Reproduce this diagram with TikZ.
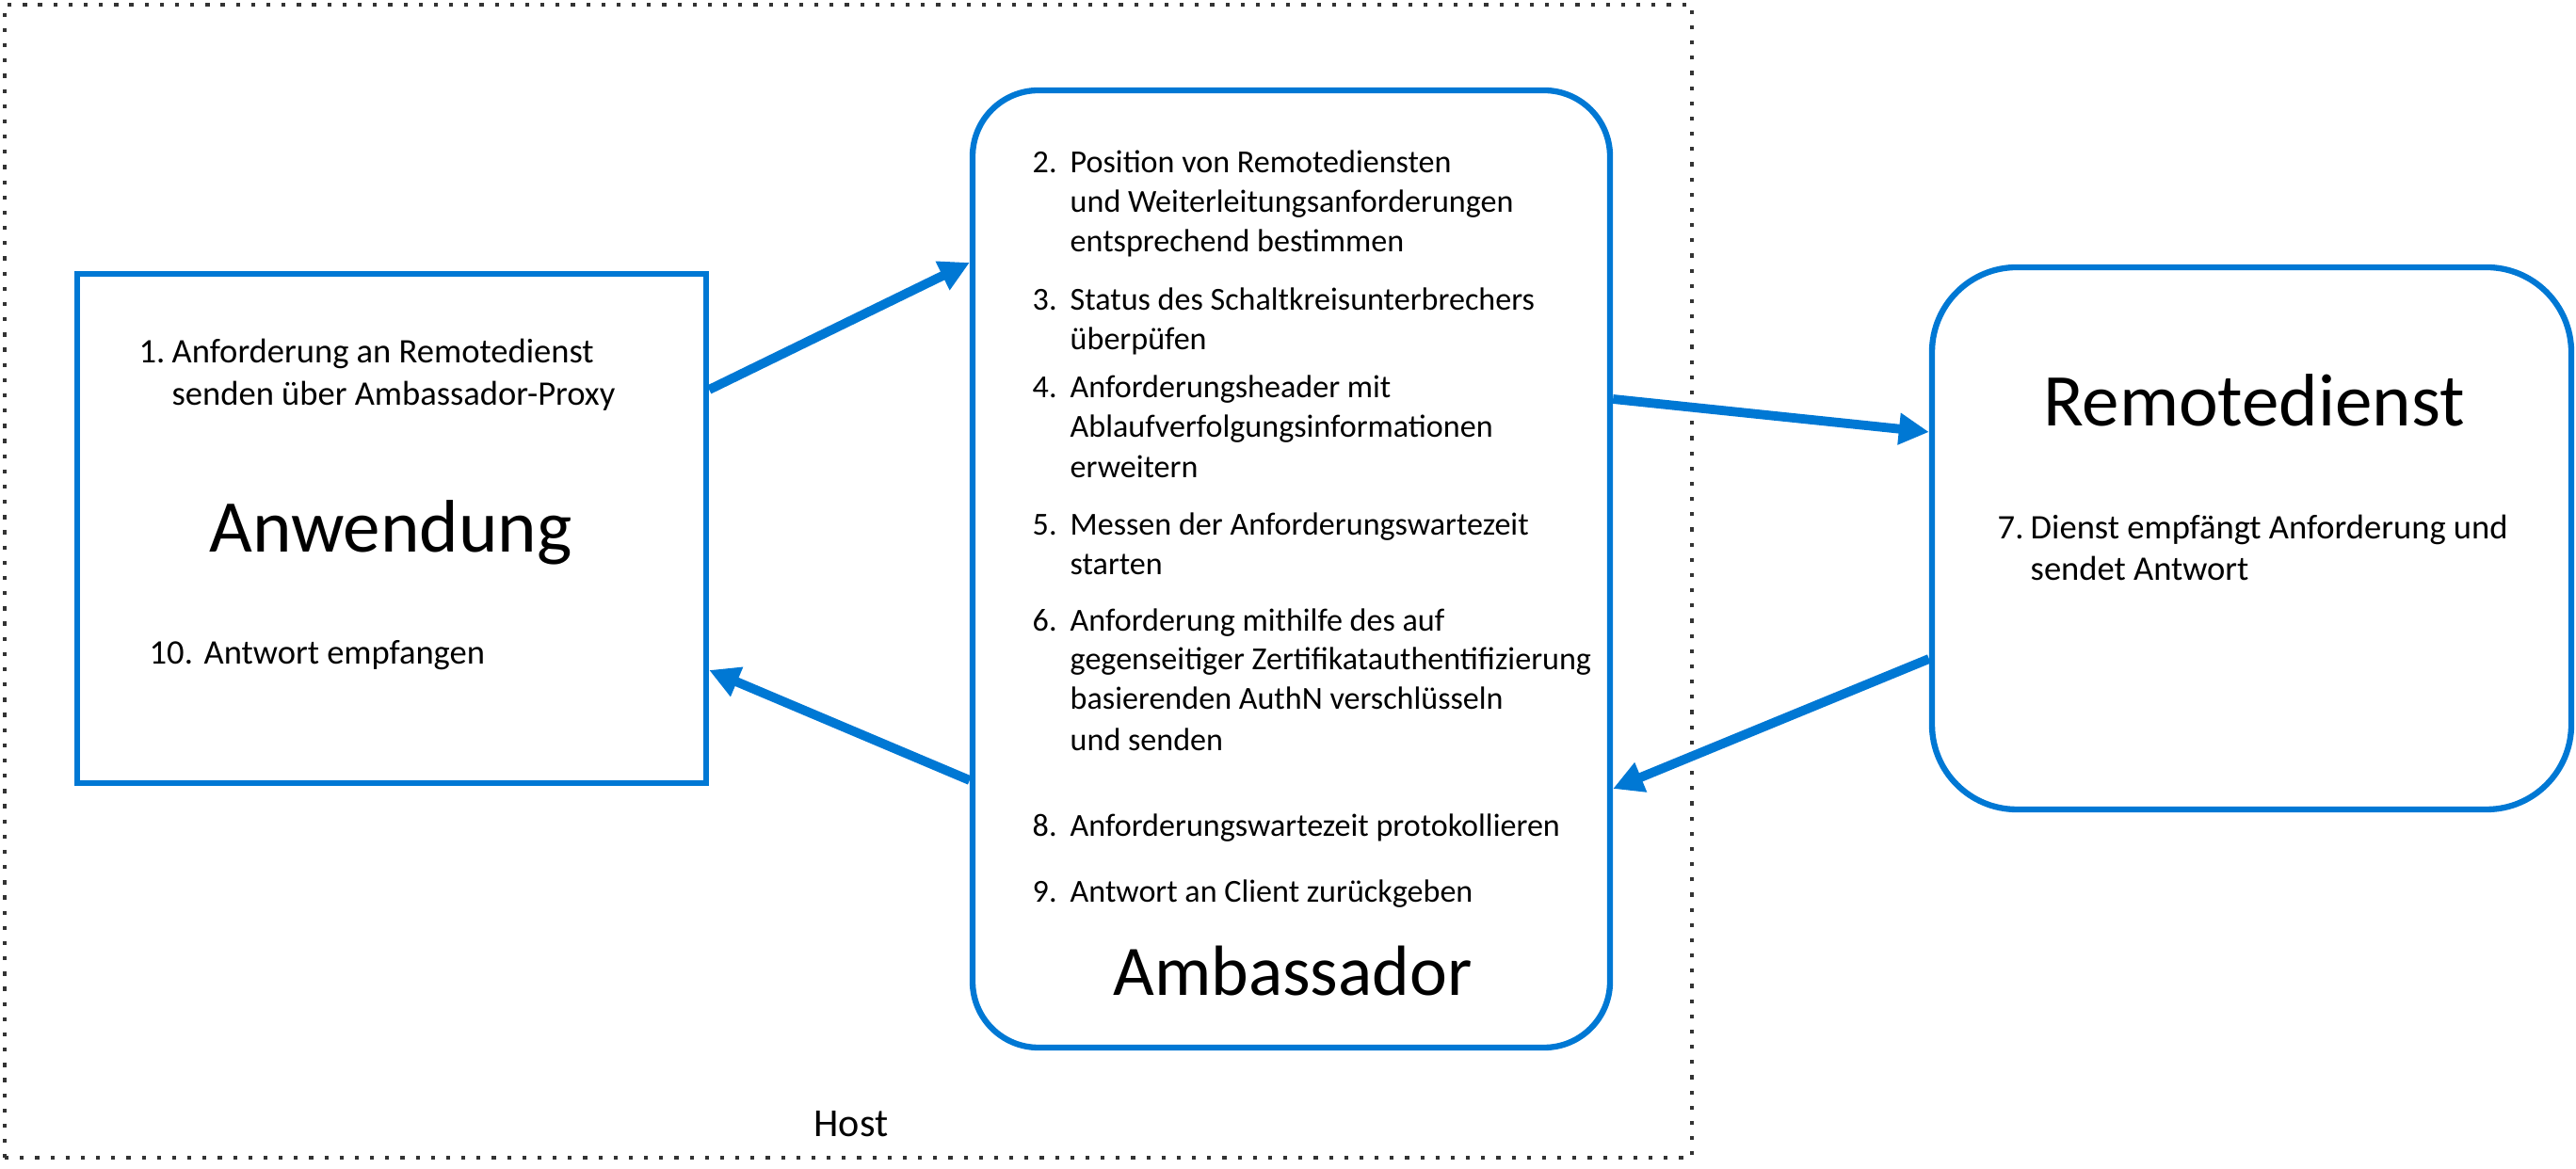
\documentclass[tikz,border=0pt]{standalone}
\usepackage{fontspec}
\setmainfont{Carlito}
\usetikzlibrary{arrows.meta}
\definecolor{msblue}{HTML}{0078D4}

\begin{document}
\begin{tikzpicture}[
    box/.style={draw=msblue, line width=1.8pt, inner sep=0pt},
    flow/.style={draw=msblue, line width=2.8pt, -{Triangle[length=3.2mm,width=3.2mm]}},
    title/.style={font=\fontsize{22.5}{27}\selectfont, inner sep=0pt, anchor=base},
    steptext/.style={font=\fontsize{9.7}{11.9}\selectfont, inner sep=0pt, anchor=base west},
    sidetext/.style={font=\fontsize{10.4}{12.5}\selectfont, inner sep=0pt, anchor=base west},
  ]
  \useasboundingbox (0,0) rectangle (27.36,12.42);

  % Host border
  \node[draw=black!80, line width=1.2pt, dash pattern=on 1.2pt off 3.4pt,
    minimum width=17.92cm, minimum height=12.25cm, inner sep=0pt] (host) at (9.01,6.245) {};
  \node[font=\fontsize{12}{14}\selectfont, inner sep=0pt, anchor=base] (hostlabel) at (9.04,0.34) {Host};

  % Anwendung box
  \node[box, minimum width=6.68cm, minimum height=5.41cm] (anw) at (4.16,6.805) {};
  \node[title] (anwtitle) at (4.15,6.55) {Anwendung};
  \node[sidetext] (req1) at (1.82,8.56) {\llap{\makebox[0.35cm][l]{1.}}Anforderung an Remotedienst};
  \node[sidetext] (req1b) at (1.82,8.11) {senden über Ambassador-Proxy};
  \node[sidetext] (resp10) at (2.16,5.36) {\llap{\makebox[0.58cm][l]{10.}}Antwort empfangen};

  % Ambassador box
  \node[box, rounded corners=0.7cm, minimum width=6.77cm, minimum height=10.17cm] (amb) at (13.715,6.375) {};
  \node[title, font=\fontsize{21.5}{26}\selectfont] (ambtitle) at (13.73,1.84) {Ambassador};
  \foreach \y/\n/\t [count=\k] in {
      10.58/2./Position von Remotediensten,
      10.16//und Weiterleitungsanforderungen,
      9.74//entsprechend bestimmen,
      9.12/3./Status des Schaltkreisunterbrechers,
      8.70//überpüfen,
      8.19/4./Anforderungsheader mit,
      7.77//Ablaufverfolgungsinformationen,
      7.34//erweitern,
      6.73/5./Messen der Anforderungswartezeit,
      6.31//starten,
      5.71/6./Anforderung mithilfe des auf,
      5.30//gegenseitiger Zertifikatauthentifizierung,
      4.88//basierenden AuthN verschlüsseln,
      4.44//und senden,
      3.53/8./Anforderungswartezeit protokollieren,
      2.83/9./Antwort an Client zurückgeben}
    \node[steptext] (amb\k) at (11.36,\y) {\llap{\makebox[0.40cm][l]{\n}}\t};

  % Remotedienst box
  \node[box, rounded corners=0.9cm, minimum width=6.79cm, minimum height=5.76cm] (srv) at (23.915,6.70) {};
  \node[title] (srvtitle) at (23.94,7.89) {Remotedienst};
  \node[sidetext] (srv7) at (21.56,6.69) {\llap{\makebox[0.35cm][l]{7.}}Dienst empfängt Anforderung und};
  \node[sidetext] (srv7b) at (21.56,6.25) {sendet Antwort};

  % connector ends
  \coordinate (anwout) at ([yshift=1.475cm]anw.east);
  \coordinate (ambin) at ([yshift=3.255cm]amb.west);
  \coordinate (ambout) at ([yshift=1.805cm]amb.east);
  \coordinate (srvin) at ([yshift=1.13cm]srv.west);
  \coordinate (srvout) at ([yshift=-1.28cm]srv.west);
  \coordinate (ambback) at ([yshift=-2.335cm]amb.east);
  \coordinate (ambret) at ([yshift=-2.245cm]amb.west);
  \coordinate (anwin) at ([yshift=-1.505cm]anw.east);

  % flows
  \draw[flow] (anwout) -- (ambin);
  \draw[flow] (ambout) -- (srvin);
  \draw[flow] (srvout) -- (ambback);
  \draw[flow] (ambret) -- (anwin);
\end{tikzpicture}
\end{document}
